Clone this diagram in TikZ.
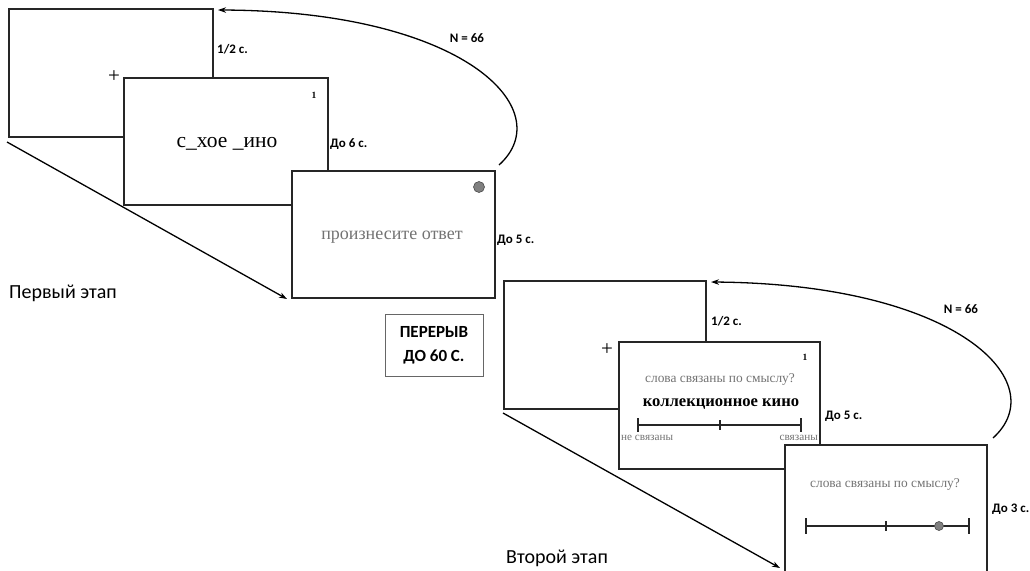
\documentclass[tikz,border=0pt]{standalone}
\usepackage{fontspec}
\setmainfont{Liberation Serif}
\newfontfamily\lab{Carlito}
\usetikzlibrary{arrows.meta}
\begin{document}
\begin{tikzpicture}[x=1pt,y=-1pt,
  scr/.style={draw=black!85, line width=1.3pt, fill=white, inner sep=0pt},
  lbl/.style={font=\lab\bfseries\fontsize{13}{15}\selectfont, anchor=west, inner sep=0pt},
  stagelbl/.style={font=\lab\fontsize{20}{22}\selectfont, anchor=west, inner sep=0pt},
  conn/.style={line width=1.3pt, -{Stealth[length=8pt,width=5.5pt]}},
  gtext/.style={text=black!55, inner sep=0pt},
  plus/.style={font=\fontsize{21}{21}\selectfont, inner sep=0pt},
  numlbl/.style={font=\fontsize{9.5}{9.5}\selectfont\bfseries, inner sep=0pt},
  ratingline/.style={line width=1.3pt, draw=black!85},
  dot/.style={circle, fill=black!50, draw=black!70, line width=0.6pt, inner sep=0pt, minimum size=11pt}
]
\clip (0,0) rectangle (1030,570);
\fill[white] (0,0) rectangle (1030,570);

% ---------- Stage 1 ----------
\node[scr, minimum width=204pt, minimum height=128pt] (A) at (111,73) {};
\node[plus] (pA) at (114,77) {+};
\node[scr, minimum width=204pt, minimum height=127pt] (B) at (226,141.5) {};
\node[numlbl] (nB) at (314,95) {1};
\node[font=\fontsize{21.5}{23}\selectfont, inner sep=0pt] (wB) at (227,144) {с\_хое \_ино};
\node[scr, minimum width=203pt, minimum height=127pt] (C) at (393.5,234.5) {};
\node[dot] (dC) at (479,187) {};
\node[gtext, font=\fontsize{18}{20}\selectfont] (tC) at (392,237) {произнесите ответ};

\node[lbl] (l1) at (217,49) {1/2 с.};
\node[lbl] (l2) at (330,144) {До 6 с.};
\node[lbl] (l3) at (497,240) {До 5 с.};
\node[lbl, anchor=center] (n1) at (467,38) {N = 66};
\node[stagelbl] (s1) at (9,293) {Первый этап};

\coordinate (a1s) at (7,142);
\coordinate (a1e) at (287,299);
\draw[conn] (a1s) -- (a1e);
\coordinate (c1s) at (499,165);
\coordinate (c1e) at (218,10);
\draw[conn] (c1s) .. controls (560,110) and (465,11) .. (c1e);

% ---------- Break ----------
\node[draw=black!60, line width=1pt, minimum width=98pt, minimum height=62pt,
      align=center, font=\lab\bfseries\fontsize{17}{24}\selectfont, inner sep=0pt] (brk) at (434,345)
      {ПЕРЕРЫВ\\ДО 60 С.};

% ---------- Stage 2 ----------
\node[scr, minimum width=202pt, minimum height=128pt] (D) at (605,345) {};
\node[plus] (pD) at (607,350) {+};
\node[scr, minimum width=201pt, minimum height=127pt] (E) at (719.5,405.5) {};
\node[numlbl] (nE) at (805,357) {1};
\node[gtext, font=\fontsize{13.4}{15}\selectfont] (qE) at (720,380) {слова связаны по смыслу?};
\node[font=\fontsize{16.6}{18}\selectfont\bfseries, inner sep=0pt] (wE) at (721,404) {коллекционное кино};
\draw[ratingline] (638,425) -- (801,425);
\draw[ratingline] (638,418) -- (638,432);
\draw[ratingline] (801,418) -- (801,432);
\draw[ratingline] (720,420) -- (720,430);
\node[gtext, font=\fontsize{11.2}{12}\selectfont, anchor=west] (ne) at (621,438) {не связаны};
\node[gtext, font=\fontsize{11.2}{12}\selectfont, anchor=east] (sv) at (818,438) {связаны};

\node[scr, minimum width=202pt, minimum height=135pt] (F) at (886,512.5) {};
\node[gtext, font=\fontsize{13.4}{15}\selectfont] (qF) at (885,485) {слова связаны по смыслу?};
\draw[ratingline] (806,526) -- (969,526);
\draw[ratingline] (806,518) -- (806,534);
\draw[ratingline] (969,518) -- (969,534);
\draw[ratingline] (886,521) -- (886,531);
\node[dot, minimum size=9pt] (dF) at (939,526) {};

\node[lbl] (l4) at (711,321) {1/2 с.};
\node[lbl] (l5) at (825,416) {До 5 с.};
\node[lbl] (l6) at (992,509) {До 3 с.};
\node[lbl, anchor=center] (n2) at (961,309) {N = 66};
\node[stagelbl] (s2) at (506,558) {Второй этап};

\coordinate (a2s) at (503,413);
\coordinate (a2e) at (780,568);
\draw[conn] (a2s) -- (a2e);
\coordinate (c2s) at (993,438);
\coordinate (c2e) at (711,282);
\draw[conn] (c2s) .. controls (1054,383) and (959,284) .. (c2e);
\end{tikzpicture}
\end{document}
